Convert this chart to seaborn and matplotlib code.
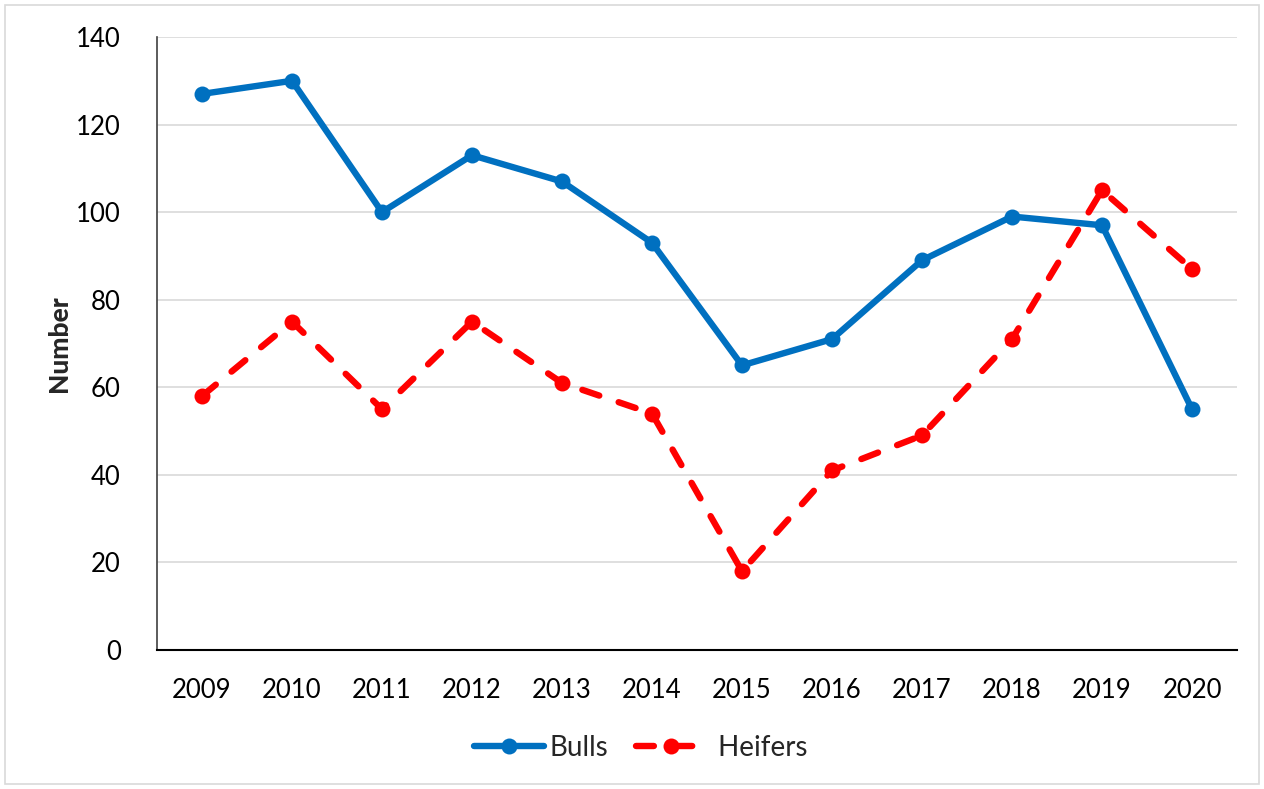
import matplotlib
matplotlib.use("Agg")
import matplotlib.pyplot as plt
import seaborn as sns
import pandas as pd
from matplotlib.patches import Rectangle

years = ["2009", "2010", "2011", "2012", "2013", "2014", "2015", "2016", "2017", "2018", "2019", "2020"]
bulls = [127, 130, 100, 113, 107, 93, 65, 71, 89, 99, 97, 55]
heifers = [58, 75, 55, 75, 61, 54, 18, 41, 49, 71, 105, 87]

df = pd.DataFrame({
    "Year": years * 2,
    "Number": bulls + heifers,
    "Series": ["Bulls"] * len(years) + ["Heifers"] * len(years),
})

sns.set_theme(style="white")
plt.rcParams['font.family'] = ['Lato', 'DejaVu Sans']

fig = plt.figure(figsize=(12.64, 7.89), dpi=100)
ax = fig.add_axes([157/1264, 1 - 650/789, (1237-157)/1264, (650-37)/789])

sns.lineplot(data=df, x="Year", y="Number", hue="Series", style="Series",
             palette={"Bulls": "#0070C0", "Heifers": "#FF0000"},
             dashes={"Bulls": "", "Heifers": (2.8, 3.2)},
             markers={"Bulls": "o", "Heifers": "o"},
             markersize=11.5, linewidth=4.6, markeredgewidth=0,
             dash_capstyle="round", solid_capstyle="round",
             ax=ax, sort=False)

ax.set_xlim(-0.5, len(years) - 0.5)
ax.set_ylim(0, 140)
ax.set_yticks(range(0, 141, 20))
ax.yaxis.grid(True, color="#D9D9D9", linewidth=1.2)
ax.xaxis.grid(False)
ax.set_axisbelow(True)
for s in ["top", "right"]:
    ax.spines[s].set_visible(False)
ax.spines["left"].set_color("#404040")
ax.spines["left"].set_linewidth(1.2)
ax.spines["bottom"].set_color("black")
ax.spines["bottom"].set_linewidth(1.5)
ax.tick_params(axis="both", length=0, labelsize=18.5, colors="black")
ax.tick_params(axis="y", pad=26)
ax.tick_params(axis="x", pad=20)
ax.set_xlabel("")
ax.set_ylabel("Number", fontsize=19, fontweight=900, labelpad=4)

handles, labels = ax.get_legend_handles_labels()
ax.get_legend().remove()
fig.legend(handles, ["Bulls", " Heifers"], loc="center", bbox_to_anchor=(0.507, 1 - 748/789), ncol=2,
           frameon=False, fontsize=20, handlelength=2.5, columnspacing=1.0,
           handletextpad=0.2)

fig.patches.append(Rectangle((5/1264, 5/789), 1 - 10/1264, 1 - 10/789,
                             transform=fig.transFigure, fill=False,
                             edgecolor="#D9D9D9", linewidth=1.2))

fig.savefig("out.png", dpi=100)
